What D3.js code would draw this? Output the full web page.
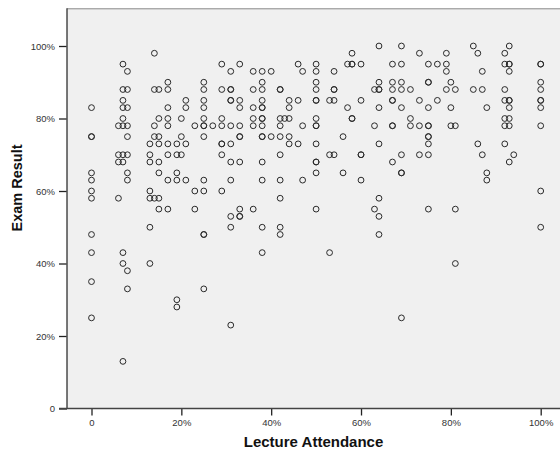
<!DOCTYPE html>
<html><head><meta charset="utf-8">
<script src="https://cdn.jsdelivr.net/npm/d3@7"></script>
<style>
body{margin:0;background:#fff;}
svg text{font-family:"Liberation Sans",Arial,sans-serif;}
</style></head>
<body><svg id="c" width="560" height="455"></svg>
<script>
// Lecture attendance (%) per column, and exam results (%) of the students in that column
const attendanceLevels = [0,6,7,8,13,14,15,17,19,20,21,23,25,27,29,31,33,36,38,40,42,43,44,46,47,50,53,54,56,57,58,60,63,64,67,69,71,73,75,77,79,80,81,85,86,87,88,92,93,94,100];
const examByLevel = [
  [83,75,75,65,63,60,58,48,43,35,25],
  [78,70,68,58],
  [95,88,85,83,80,78,70,68,43,40,13],
  [93,88,83,78,75,70,65,63,38,33],
  [73,70,68,60,58,50,40],
  [98,88,78,75,58],
  [88,80,75,73,68,65,58,55],
  [90,88,83,80,78,73,70,63,55],
  [73,70,65,63,30,28],
  [80,75,70],
  [85,83,73,63],
  [78,60,55],
  [90,88,85,83,80,78,78,75,63,60,48,48,33],
  [78],
  [95,88,80,78,73,73,70,60],
  [93,88,88,85,85,78,73,68,63,53,50,23],
  [95,85,83,78,75,75,68,55,53,53],
  [93,88,83,80,78,55],
  [93,90,88,85,83,83,80,80,78,75,75,68,63,50,43],
  [93,75],
  [88,88,80,78,75,70,63,58,50,48],
  [80],
  [85,83,80,75,73],
  [95,85,73],
  [93,78,63],
  [95,93,90,88,85,85,80,78,78,73,68,68,65,55],
  [85,70,43],
  [93,88,88,85,70],
  [75,65],
  [95,83],
  [98,95,95,80,80],
  [95,85,70,70,63],
  [88,78,55],
  [100,90,88,88,83,73,58,53,48],
  [95,90,88,85,85,78,78,68],
  [100,95,90,88,83,70,65,65,25],
  [88,80,78],
  [98,85,78,70],
  [95,90,90,83,78,78,75,75,73,70,55],
  [95,85],
  [98,95,93,88],
  [90,83,78],
  [88,78,55,40],
  [100,88],
  [98,73],
  [93,88,70],
  [83,65,63],
  [98,95,88,85,80,78,73],
  [100,95,95,93,85,85,83,80,78,68],
  [70],
  [95,95,90,88,85,85,83,78,60,50]
];
const xTicks = [0,20,40,60,80,100];
const yTicks = [0,20,40,60,80,100];
const xTitle = "Lecture Attendance";
const yTitle = "Exam Result";

const points = [];
attendanceLevels.forEach((a,i)=>examByLevel[i].forEach(e=>points.push({a,e})));

const svg = d3.select("#c");
const x = d3.scaleLinear().domain([0,100]).range([91.5,540.7]);
const y = d3.scaleLinear().domain([0,100]).range([408.5,46]);
const pL = x(-5.45), pR = 560, pT = y(110.4), pB = y(0);

svg.append("rect").attr("x",pL).attr("y",pT).attr("width",pR-pL).attr("height",pB-pT)
  .attr("fill","#f0f0f0");
svg.append("line").attr("x1",pL).attr("x2",pR).attr("y1",pT+0.5).attr("y2",pT+0.5)
  .attr("stroke","#8a8a8a").attr("stroke-width",1);

const fmt = d => d===0 ? "0" : d+"%";

const xAxis = svg.append("g").attr("transform",`translate(0,${pB})`)
  .call(d3.axisBottom(x).tickValues(xTicks).tickFormat(fmt).tickSize(7).tickSizeOuter(0).tickPadding(4));
xAxis.select(".domain").remove();
xAxis.selectAll(".tick line").attr("stroke","#222").attr("stroke-width",1.3);
xAxis.selectAll(".tick text").attr("fill","#333").style("font-size","9.5px");

const yAxis = svg.append("g").attr("transform",`translate(${pL},0)`)
  .call(d3.axisLeft(y).tickValues(yTicks).tickFormat(fmt).tickSize(8).tickSizeOuter(0).tickPadding(4));
yAxis.select(".domain").remove();
yAxis.selectAll(".tick line").attr("stroke","#222").attr("stroke-width",1.3);
yAxis.selectAll(".tick text").attr("fill","#333").style("font-size","9.5px");

svg.append("line").attr("x1",pL).attr("x2",pL).attr("y1",pT).attr("y2",pB)
  .attr("stroke","#555").attr("stroke-width",1.6);
svg.append("line").attr("x1",pL-8).attr("x2",pR).attr("y1",pB).attr("y2",pB)
  .attr("stroke","#444").attr("stroke-width",1.6);

svg.append("g").selectAll("circle").data(points).join("circle")
  .attr("cx",d=>x(d.a)).attr("cy",d=>y(d.e)).attr("r",2.9)
  .attr("fill","none").attr("stroke","#2a2a2a").attr("stroke-width",1);

svg.append("text").attr("x",(pL+pR)/2).attr("y",447).attr("text-anchor","middle")
  .style("font-size","15px").style("font-weight","bold").attr("fill","#111").text(xTitle);
svg.append("text").attr("transform",`translate(22,${188}) rotate(-90)`).attr("text-anchor","middle")
  .style("font-size","14.5px").style("font-weight","bold").attr("fill","#111").text(yTitle);
</script></body></html>
